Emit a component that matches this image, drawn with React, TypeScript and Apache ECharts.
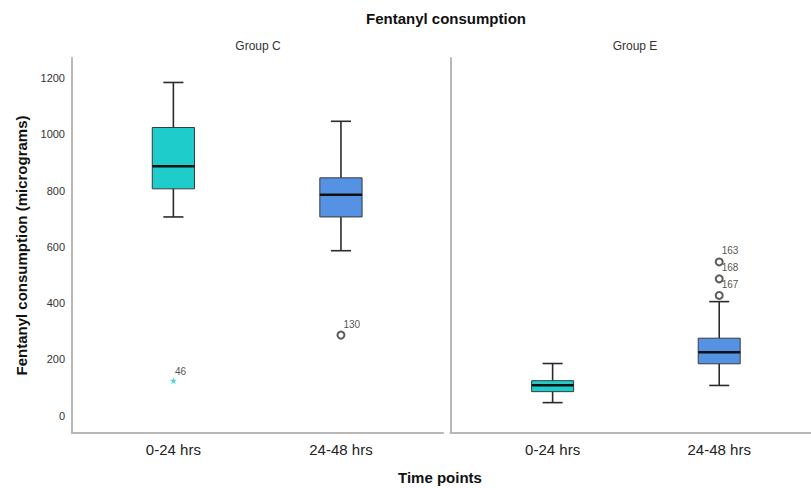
import React, { useEffect, useRef } from "react";
import * as echarts from "echarts";

const categories = ["0-24 hrs", "24-48 hrs"];
const groups = ["Group C", "Group E"];
// [position, min, Q1, median, Q3, max]
const groupCBoxes = [
  [0, 706, 806, 886, 1024, 1184],
  [1, 586, 706, 785, 845, 1046],
];
const groupEBoxes = [
  [0, 46, 85, 108, 124, 185],
  [1, 107, 184, 225, 275, 405],
];
const groupCExtremes = [[0, 124, "46"]];
const groupCOutliers = [[1, 286, "130"]];
const groupEOutliers = [
  [1, 546, "163"],
  [1, 486, "168"],
  [1, 427, "167"],
];
const boxColors = ["#1ECCCB", "#5592E3"];
const yTicks = [0, 200, 400, 600, 800, 1000, 1200];

const FONT = "Liberation Sans, Arial, sans-serif";

const renderBox = (params: any, api: any) => {
  const x = api.value(0);
  const lo = api.coord([x, api.value(1)]);
  const q1 = api.coord([x, api.value(2)]);
  const med = api.coord([x, api.value(3)]);
  const q3 = api.coord([x, api.value(4)]);
  const hi = api.coord([x, api.value(5)]);
  const bw = api.size([0.252, 0])[0];
  const cw = api.size([0.12, 0])[0];
  const cx = lo[0];
  const dark = "#2b2b2b";
  const fill = boxColors[x];
  return {
    type: "group",
    children: [
      { type: "line", shape: { x1: cx, y1: lo[1], x2: cx, y2: q1[1] }, style: { stroke: dark, lineWidth: 1.6 } },
      { type: "line", shape: { x1: cx, y1: q3[1], x2: cx, y2: hi[1] }, style: { stroke: dark, lineWidth: 1.6 } },
      { type: "line", shape: { x1: cx - cw / 2, y1: lo[1], x2: cx + cw / 2, y2: lo[1] }, style: { stroke: dark, lineWidth: 1.6 } },
      { type: "line", shape: { x1: cx - cw / 2, y1: hi[1], x2: cx + cw / 2, y2: hi[1] }, style: { stroke: dark, lineWidth: 1.6 } },
      {
        type: "rect",
        shape: { x: cx - bw / 2, y: q3[1], width: bw, height: q1[1] - q3[1] },
        style: { fill, stroke: "#3a3a3a", lineWidth: 1 },
      },
      { type: "line", shape: { x1: cx - bw / 2, y1: med[1], x2: cx + bw / 2, y2: med[1] }, style: { stroke: "#111", lineWidth: 2.6 } },
    ],
  };
};

const STAR =
  "path://M50,0 L61,35 L98,35 L68,57 L79,91 L50,70 L21,91 L32,57 L2,35 L39,35 Z";

const outlierLabel = {
  show: true,
  position: "right",
  distance: 0,
  offset: [-2, -11],
  formatter: (p: any) => p.value[2],
  fontFamily: FONT,
  fontSize: 10,
  color: "#222",
};

export default function App() {
  const ref = useRef<HTMLDivElement>(null);
  useEffect(() => {
    if (!ref.current) return;
    const chart = echarts.init(ref.current, null, { renderer: "svg" });
    const axisLineStyle = { color: "#b8b8b8", width: 2 };
    const xAxisCommon = (gridIndex: number, min: number, max: number) => ({
      type: "value",
      gridIndex,
      min,
      max,
      splitLine: { show: false },
      axisTick: { show: false },
      axisLine: { show: true, onZero: false, lineStyle: axisLineStyle },
      axisLabel: {
        customValues: [0, 1],
        formatter: (v: number) => categories[Math.round(v)] ?? "",
        fontFamily: FONT,
        fontSize: 15,
        color: "#222",
        margin: 9,
      },
    });
    const yAxisCommon = (gridIndex: number, showLabels: boolean) => ({
      type: "value",
      gridIndex,
      min: -62,
      max: 1271,
      splitLine: { show: false },
      axisTick: { show: false },
      axisLine: { show: true, onZero: false, lineStyle: axisLineStyle },
      axisLabel: {
        show: showLabels,
        customValues: yTicks,
        formatter: (v: number) => String(v),
        fontFamily: FONT,
        fontSize: 11,
        color: "#333",
        margin: 7,
      },
      ...(showLabels
        ? {
            name: "Fentanyl consumption (micrograms)",
            nameLocation: "middle",
            nameGap: 43,
            nameTextStyle: { fontFamily: FONT, fontSize: 15, fontWeight: "bold", color: "#111" },
          }
        : {}),
    });
    chart.setOption({
      animation: false,
      backgroundColor: "#fff",
      title: [
        {
          text: "Fentanyl consumption",
          left: 446,
          top: 11,
          padding: 0,
          textAlign: "center",
          textStyle: { fontFamily: FONT, fontSize: 15, fontWeight: "bold", color: "#111" },
        },
        {
          text: groups[0],
          left: 258,
          top: 40,
          padding: 0,
          textAlign: "center",
          textStyle: { fontFamily: FONT, fontSize: 12, fontWeight: "normal", color: "#333" },
        },
        {
          text: groups[1],
          left: 635,
          top: 40,
          padding: 0,
          textAlign: "center",
          textStyle: { fontFamily: FONT, fontSize: 12, fontWeight: "normal", color: "#333" },
        },
        {
          text: "Time points",
          left: 440,
          top: 470,
          padding: 0,
          textAlign: "center",
          textStyle: { fontFamily: FONT, fontSize: 15, fontWeight: "bold", color: "#111" },
        },
      ],
      grid: [
        { left: 72, top: 58, width: 371, height: 375 },
        { left: 450.5, top: 58, width: 360, height: 375 },
      ],
      xAxis: [xAxisCommon(0, -0.605, 1.609), xAxisCommon(1, -0.613, 1.548)],
      yAxis: [yAxisCommon(0, true), yAxisCommon(1, false)],
      series: [
        {
          type: "custom",
          xAxisIndex: 0,
          yAxisIndex: 0,
          renderItem: renderBox,
          data: groupCBoxes,
          encode: { x: 0, y: [1, 2, 3, 4, 5] },
        },
        {
          type: "custom",
          xAxisIndex: 1,
          yAxisIndex: 1,
          renderItem: renderBox,
          data: groupEBoxes,
          encode: { x: 0, y: [1, 2, 3, 4, 5] },
        },
        {
          type: "scatter",
          xAxisIndex: 0,
          yAxisIndex: 0,
          symbol: STAR,
          symbolSize: 7,
          itemStyle: { color: "#1ECCCB" },
          label: { ...outlierLabel, offset: [-2, -9] },
          data: groupCExtremes,
        },
        {
          type: "scatter",
          xAxisIndex: 0,
          yAxisIndex: 0,
          symbol: "emptyCircle",
          symbolSize: 7,
          itemStyle: { color: "#333", borderColor: "#333", borderWidth: 1 },
          label: outlierLabel,
          data: groupCOutliers,
        },
        {
          type: "scatter",
          xAxisIndex: 1,
          yAxisIndex: 1,
          symbol: "emptyCircle",
          symbolSize: 7,
          itemStyle: { color: "#333", borderColor: "#333", borderWidth: 1 },
          label: outlierLabel,
          data: groupEOutliers,
        },
      ],
    });
    return () => chart.dispose();
  }, []);
  return (
    <div
      ref={ref}
      style={{ position: "fixed", left: 0, top: 0, width: 811, height: 488 }}
    />
  );
}
